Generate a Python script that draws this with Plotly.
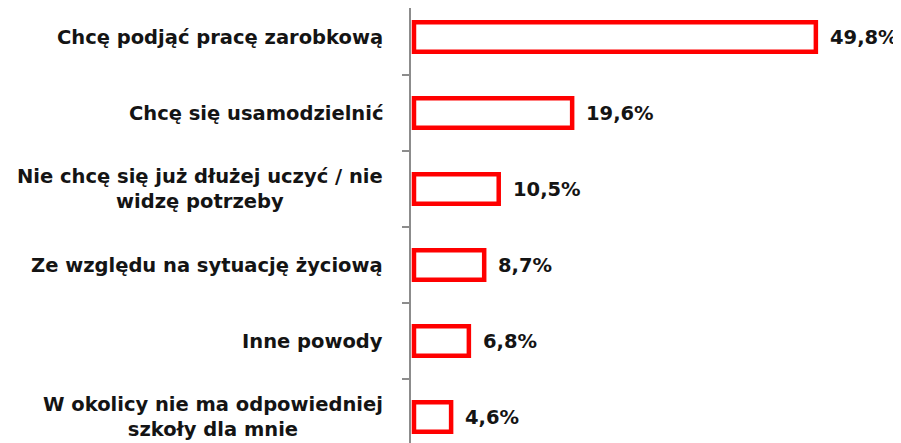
import plotly.graph_objects as go

categories = [
    "Chcę podjąć pracę zarobkową",
    "Chcę się usamodzielnić",
    "Nie chcę się już dłużej uczyć / nie<br>widzę potrzeby",
    "Ze względu na sytuację życiową",
    "Inne powody",
    "W okolicy nie ma odpowiedniej<br>szkoły dla mnie",
]
values = [49.8, 19.6, 10.5, 8.7, 6.8, 4.6]
value_labels = ["49,8%", "19,6%", "10,5%", "8,7%", "6,8%", "4,6%"]

FONT = "DejaVu Sans"
TXT = "#141414"
FS = 19.5

fig = go.Figure()
fig.add_trace(go.Bar(
    x=values, y=categories, orientation="h",
    width=0.39,
    marker=dict(color="white", line=dict(color="#ff0000", width=4.5)),
    hoverinfo="skip",
))

annotations = []
for c in categories:
    annotations.append(dict(
        x=-0.053, xref="paper", y=c, yref="y",
        text="<b>" + c + "</b>", showarrow=False,
        xanchor="right", yanchor="middle", align="center",
        font=dict(family=FONT, size=FS, color=TXT),
    ))
for c, v, t in zip(categories, values, value_labels):
    annotations.append(dict(
        x=v, xref="x", y=c, yref="y",
        text="<b>" + t + "</b>", showarrow=False,
        xanchor="left", yanchor="middle", xshift=12,
        font=dict(family=FONT, size=FS, color=TXT),
    ))

# page body has an 8px margin, so the figure is sized/positioned to compensate
fig.update_layout(
    width=893, height=435,
    margin=dict(l=403, r=0, t=0, b=0),
    paper_bgcolor="white", plot_bgcolor="white",
    showlegend=False,
    annotations=annotations,
    xaxis=dict(range=[-0.37, 60.35], visible=False),
    yaxis=dict(
        type="category",
        categoryorder="array", categoryarray=categories,
        range=[5.342, -0.3816],
        showline=True, linecolor="#8c8c8c", linewidth=2,
        ticks="outside", ticklen=7, tickcolor="#8c8c8c", tickwidth=2,
        tickson="boundaries",
        showticklabels=False, showgrid=False, zeroline=False,
        automargin=False,
    ),
)

fig.write_html("out.html")
